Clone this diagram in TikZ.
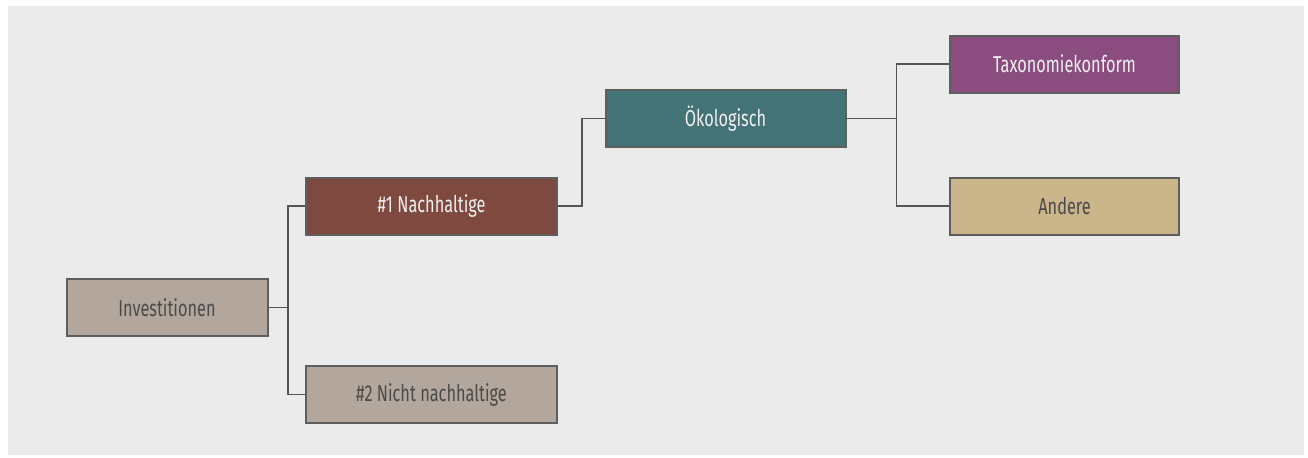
\documentclass[tikz,border=0pt]{standalone}
\usepackage{fontspec}
\setmainfont{Fira Sans}[FakeStretch=0.71]
\usetikzlibrary{positioning}
\definecolor{BgGrey}{HTML}{EBEBEB}
\definecolor{BoxLine}{HTML}{5E5E5E}
\definecolor{LinkGrey}{HTML}{555555}
\definecolor{TextDark}{HTML}{4A4A4A}
\definecolor{InvGrey}{HTML}{B3A79D}
\definecolor{NachRed}{HTML}{7E4A40}
\definecolor{OekoTeal}{HTML}{437277}
\definecolor{TaxPurple}{HTML}{8B4D80}
\definecolor{AndSand}{HTML}{CBB58B}

\begin{document}
\begin{tikzpicture}[x=0.5pt, y=-0.5pt]
        \tikzstyle{box} = [rectangle, draw=BoxLine, line width=1pt, inner sep=0pt,
          minimum height=28.5pt, font=\fontsize{11.5}{13}\selectfont]
        \tikzstyle{light} = [box, fill=InvGrey, text=TextDark]
        \tikzstyle{dark} = [box, text=white!94!black]
        \tikzstyle{link} = [draw=LinkGrey, line width=0.8pt]

        \useasboundingbox (0,0) rectangle (1308,457);
        \fill[BgGrey] (8,6) rectangle (1304,455);

        % boxes
        \node[light, minimum width=100.5pt] (inv) at (167,307.5) {Investitionen};
        \node[dark, fill=NachRed, minimum width=125.5pt] (nach) at (431.5,206) {\#1 Nachhaltige};
        \node[light, minimum width=125.5pt] (nicht) at (431.5,394.5) {\#2 Nicht nachhaltige};
        \node[dark, fill=OekoTeal, minimum width=120pt] (oeko) at (725.5,118.5) {Ökologisch};
        \node[dark, fill=TaxPurple, minimum width=114.5pt] (tax) at (1064.5,64) {Taxonomiekonform};
        \node[light, fill=AndSand, minimum width=114.5pt] (andere) at (1064.5,206) {Andere};

        % connectors
        \draw[link] (inv.east) -- ++(19.5,0) |- (nach.west);
        \draw[link] (inv.east) -- ++(19.5,0) |- (nicht.west);
        \draw[link] (nach.east) -- ++(24,0) |- (oeko.west);
        \draw[link] (oeko.east) -- ++(50,0) |- (tax.west);
        \draw[link] (oeko.east) -- ++(50,0) |- (andere.west);
      \end{tikzpicture}
\end{document}
